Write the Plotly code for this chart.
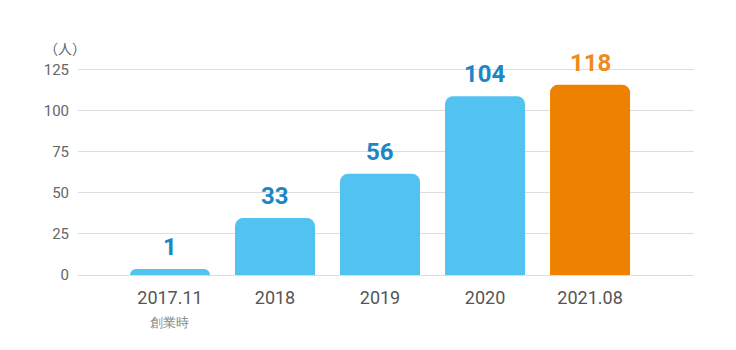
import plotly.graph_objects as go

categories = ["2017.11", "2018", "2019", "2020", "2021.08"]
sub_labels = ["創業時", "", "", "", ""]
label_values = [1, 33, 56, 104, 118]
bar_heights = [3.7, 34.7, 61.7, 109, 116]
y_ticks = [0, 25, 50, 75, 100, 125]

bar_colors = ["#52C3F0"] * 4 + ["#EE8200"]
label_colors = ["#1C87C4"] * 4 + ["#EE8A1E"]

x = list(range(len(categories)))
tick_text = []
for c, s in zip(categories, sub_labels):
    if s:
        tick_text.append(f"{c}<br><span style='font-size:13px;color:#888'>{s}</span>")
    else:
        tick_text.append(c)

fig = go.Figure()
fig.add_trace(go.Bar(
    x=x, y=bar_heights, width=0.762,
    marker=dict(color=bar_colors, line=dict(width=0)),
    hoverinfo="skip",
))

for xi, h, v, col in zip(x, bar_heights, label_values, label_colors):
    fig.add_annotation(
        x=xi, y=h, text=f"<b>{v}</b>", showarrow=False,
        yanchor="bottom", yshift=6,
        font=dict(family="Roboto", size=24, color=col),
    )

fig.add_annotation(
    xref="paper", yref="paper", x=-0.058, y=1.0, xanchor="left", yanchor="bottom",
    yshift=8, xshift=0, text="（人）", showarrow=False,
    font=dict(family="Noto Sans CJK JP", size=14, color="#666"),
)

fig.update_layout(
    width=736, height=350,
    margin=dict(l=78, r=42, t=68, b=75),
    paper_bgcolor="white", plot_bgcolor="white",
    barcornerradius=8,
    showlegend=False,
    font=dict(family="Roboto", color="#555"),
    xaxis=dict(
        range=[-0.876, 4.99], tickmode="array", tickvals=x, ticktext=tick_text,
        showgrid=False, zeroline=False, showline=False, ticks="",
        ticklabelstandoff=10,
        tickfont=dict(family="Roboto", size=18, color="#555"),
    ),
    yaxis=dict(
        range=[0, 126.2], tickmode="array", tickvals=y_ticks,
        showgrid=True, gridcolor="#DDDDDD", gridwidth=1,
        zeroline=True, zerolinecolor="#DDDDDD", zerolinewidth=1,
        showline=False, ticks="", ticklabelstandoff=8,
        tickfont=dict(family="Roboto", size=15, color="#666"),
    ),
)

fig.write_html("out.html")
